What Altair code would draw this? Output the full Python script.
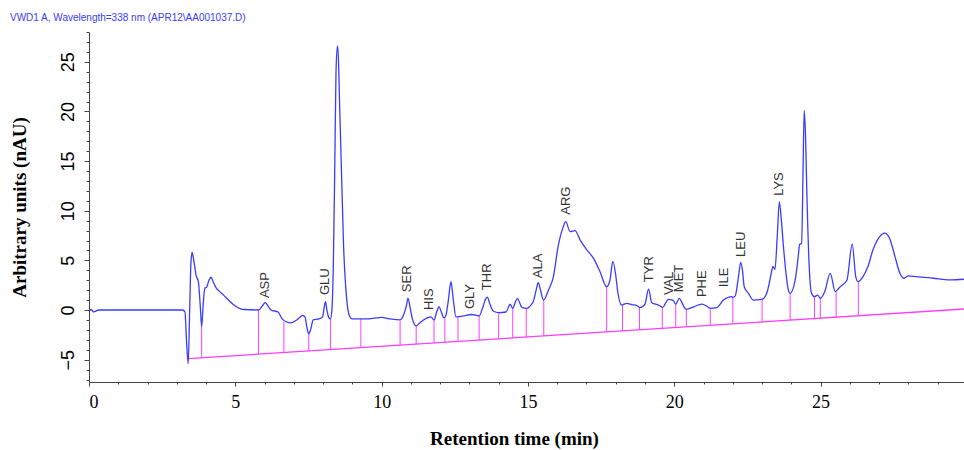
import altair as alt
import pandas as pd

# ---- chromatogram trace (retention time in min, signal) ----
times = [0.0, 0.1, 0.15, 0.2, 0.35, 3.2, 3.28, 3.33, 3.39, 3.44, 3.48, 3.52, 3.58, 3.66, 3.74, 3.80, 3.85,
         3.90, 3.96, 4.02, 4.10, 4.17, 4.25, 4.35, 4.45, 4.6, 4.8, 5.0, 5.16, 5.3, 5.79, 5.92,
         6.02, 6.12, 6.22, 6.46, 6.6, 6.75, 6.9, 7.1, 7.3, 7.38, 7.45, 7.51, 7.58, 7.66, 7.85,
         7.98, 8.05, 8.08, 8.13, 8.2, 8.25, 8.30, 8.35, 8.40, 8.44, 8.49, 8.52, 8.57, 8.62, 8.70,
         8.80, 8.9, 9.0, 9.29, 9.5, 9.8, 10.0, 10.3, 10.63, 10.75, 10.85, 10.9, 10.97, 11.05,
         11.18, 11.3, 11.43, 11.6, 11.68, 11.79, 11.88, 11.96, 12.04, 12.13, 12.2, 12.28, 12.37,
         12.45, 12.54, 12.78, 13.08, 13.33, 13.45, 13.55, 13.61, 13.7, 13.81, 14.0, 14.25, 14.35,
         14.39, 14.48, 14.57, 14.64, 14.72, 14.79, 14.96, 15.1, 15.18, 15.28, 15.35, 15.43, 15.53,
         15.7, 15.87, 16.03, 16.19, 16.29, 16.44, 16.61, 16.78, 17.01, 17.24, 17.46, 17.69, 17.8,
         17.9, 18.0, 18.06, 18.2, 18.38, 18.55, 18.72, 18.83, 19.0, 19.12, 19.23, 19.46, 19.6,
         19.8, 19.95, 20.05, 20.17, 20.3, 20.4, 20.65, 20.94, 21.1, 21.22, 21.45, 21.68, 21.96,
         22.0, 22.08, 22.2, 22.27, 22.33, 22.39, 22.53, 22.7, 22.99, 23.16, 23.30, 23.37, 23.44,
         23.52, 23.59, 23.66, 23.73, 23.9, 23.96, 24.13, 24.25, 24.28, 24.35, 24.40, 24.44, 24.49,
         24.52, 24.61, 24.69, 24.79, 24.9, 24.99, 25.14, 25.33, 25.5, 25.67, 25.9, 26.08, 26.2,
         26.28, 26.45, 26.62, 26.79, 27.02, 27.19, 27.36, 27.54, 27.71, 27.85, 28.0, 28.28, 28.85,
         29.42, 29.9]
signal = [0.0, 0.0, -0.2, -0.15, 0.0, 0.0, -0.2, -3.0, -5.4, 0.0, 4.5, 5.8, 5.0, 3.5, 2.8, 0.5, -1.7,
          0.5, 2.2, 2.3, 3.0, 3.3, 2.8, 2.2, 1.9, 1.5, 0.9, 0.4, 0.15, 0.05, 0.0, 0.4,
          0.75, 0.4, 0.0, -0.2, -0.9, -1.2, -1.3, -1.0, -0.55, -0.7, -1.8, -2.4, -1.9, -1.0, -0.9,
          -0.7, 0.5, 0.85, 0.0, -0.8, -0.9, 0.0, 4.7, 14.8, 23.9, 26.6, 25.5, 20.0, 14.8, 6.4,
          1.3, -0.6, -0.9, -0.9, -0.9, -0.8, -0.75, -0.9, -1.0, -0.5, 0.5, 1.2, 0.3, -0.9,
          -1.6, -1.3, -1.0, -0.75, -0.7, -1.0, -0.2, 0.33, -0.2, -0.8, -0.5, 1.0, 2.86,
          1.0, -0.7, -0.6, -0.45, -0.6, 0.2, 1.1, 1.3, 0.6, -0.1, -0.27, -0.2, 0.4,
          0.6, 0.17, 0.8, 1.18, 0.7, 0.27, 0.17, 0.5, 0.84, 2.0, 2.76, 2.0, 1.0,
          2.0, 3.37, 6.4, 8.25, 8.9, 7.9, 8.0, 7.07, 6.06, 5.2, 3.87, 2.35, 3.0,
          4.9, 3.5, 2.0, 0.5, 0.67, 0.55, 0.45, 0.25, 0.6, 2.1, 0.74, 0.5, 0.27,
          1.08, 1.0, 0.6, 1.18, 0.5, 0.07, 0.3, 0.6, 0.4, 0.17, 0.25, 1.0, 1.35,
          1.28, 1.4, 3.5, 4.8, 4.0, 2.35, 1.7, 1.0, 1.08, 1.7, 3.5, 4.4, 4.1,
          7.5, 10.9, 9.0, 6.4, 2.0, 1.68, 3.0, 5.8, 6.6, 6.7, 14.0, 20.1, 17.0,
          13.1, 4.4, 1.7, 1.35, 1.5, 1.18, 1.85, 3.7, 1.85, 2.35, 3.0, 6.67, 3.37,
          2.86, 3.37, 4.4, 6.06, 7.4, 7.75, 7.2, 5.4, 3.7, 3.2, 3.43, 3.37, 3.2,
          3.03, 3.1]

# ---- integration baseline ----
base_t = [3.39, 29.9]
base_v = [-4.9, 0.1]

# ---- peak boundary drop lines ----
drop_t = [3.85, 5.79, 6.66, 7.51, 8.25, 9.29, 10.63, 11.18, 11.79, 12.16, 12.61, 13.33, 14.0,
          14.48, 14.94, 15.54, 17.69, 18.23, 18.81, 19.59, 20.05, 20.41, 21.23, 22.0, 23.0,
          23.96, 24.79, 24.99, 25.53, 26.29]
drop_top = [-1.7, 0.0, -1.2, -2.4, -0.9, -0.9, -1.1, -1.6, -1.0, -0.85, -0.74, -0.6, -0.27,
            0.17, 0.17, 0.94, 2.36, 0.44, 0.27, 0.24, 0.6, 0.07, 0.17, 1.28, 1.08,
            1.68, 1.35, 1.28, 1.85, 2.86]
drop_bot = [-4.81, -4.45, -4.28, -4.12, -3.98, -3.79, -3.53, -3.43, -3.32, -3.25, -3.16, -3.03,
            -2.90, -2.81, -2.72, -2.61, -2.20, -2.10, -1.99, -1.85, -1.76, -1.69, -1.54, -1.39,
            -1.20, -1.02, -0.86, -0.83, -0.72, -0.58]

# ---- peak labels ----
peak_names = ["ASP", "GLU", "SER", "HIS", "GLY", "THR", "ALA", "ARG", "TYR", "VAL", "MET",
              "PHE", "ILE", "LEU", "LYS"]
peak_t = [6.02, 8.07, 10.88, 11.62, 13.02, 13.61, 15.33, 16.3, 19.12, 19.83, 20.16, 20.94,
          21.7, 22.27, 23.58]
peak_label_y = [1.2, 1.5, 1.8, 0.0, 0.1, 2.0, 3.2, 9.6, 2.8, 1.5, 1.8, 1.3, 2.3, 5.35, 11.5]

major_x = [0, 5, 10, 15, 20, 25]
minor_x = list(range(0, 30))
major_y = [-5, 0, 5, 10, 15, 20, 25]
minor_y = list(range(-7, 29))

trace_df = pd.DataFrame({"t": times, "v": signal})
base_df = pd.DataFrame({"t": base_t, "v": base_v})
drop_df = pd.DataFrame({"t": drop_t, "top": drop_top, "bot": drop_bot})
lab_df = pd.DataFrame({"name": peak_names, "t": peak_t, "y": peak_label_y})

xs = alt.Scale(domain=[0, 29.9], nice=False, zero=False)
ys = alt.Scale(domain=[-7.25, 28.0], nice=False, zero=False)

BLUE = "#3b3bff"
MAG = "#ff3cff"

x_main = alt.Axis(values=major_x, orient="bottom", title="Retention time (min)",
                  labelFont="Liberation Serif", labelFontSize=18, labelColor="black",
                  titleFont="Liberation Serif", titleFontSize=19, titleFontWeight="bold",
                  titleColor="black", titleX=425, titlePadding=18,
                  tickSize=4, tickColor="#444444", domainColor="#444444", labelPadding=7,
                  grid=False, tickWidth=1, domainWidth=1)
y_main = alt.Axis(values=major_y, orient="left", title="Arbitrary units (nAU)",
                  labelFont="Liberation Sans", labelFontSize=18, labelColor="black",
                  labelAngle=270, labelAlign="center", labelBaseline="middle", labelPadding=16,
                  titleFont="Liberation Serif", titleFontSize=19, titleFontWeight="bold",
                  titleColor="black", titlePadding=30,
                  tickSize=5, tickColor="#444444", domainColor="#444444",
                  grid=False, tickWidth=1, domainWidth=1)
x_minor = alt.Axis(values=minor_x, orient="bottom", labels=False, title=None, domain=False,
                   tickSize=2, tickColor="#444444", grid=False)
y_minor = alt.Axis(values=minor_y, orient="left", labels=False, title=None, domain=False,
                   tickSize=3, tickColor="#444444", grid=False)

trace = alt.Chart(trace_df).mark_line(color=BLUE, strokeWidth=1.3, interpolate="monotone").encode(
    x=alt.X("t:Q", scale=xs, axis=x_main),
    y=alt.Y("v:Q", scale=ys, axis=y_main),
)

baseline = alt.Chart(base_df).mark_line(color=MAG, strokeWidth=1.3).encode(
    x=alt.X("t:Q", scale=xs, axis=x_minor),
    y=alt.Y("v:Q", scale=ys, axis=y_minor),
)

drops = alt.Chart(drop_df).mark_rule(color=MAG, strokeWidth=1).encode(
    x=alt.X("t:Q", scale=xs, axis=None),
    y=alt.Y("top:Q", scale=ys, axis=None),
    y2="bot:Q",
)

labels = alt.Chart(lab_df).mark_text(angle=270, align="left", baseline="middle",
                                     font="Liberation Sans", fontSize=13,
                                     color="#333333").encode(
    x=alt.X("t:Q", scale=xs, axis=None),
    y=alt.Y("y:Q", scale=ys, axis=None),
    text="name:N",
)

chart = alt.layer(drops, baseline, trace, labels).resolve_axis(
    x="independent", y="independent"
).properties(
    width=875, height=350,
    title=alt.Title("VWD1 A, Wavelength=338 nm (APR12\\AA001037.D)",
                    anchor="start", fontSize=10, font="Liberation Sans",
                    fontWeight="normal", color="#3b3bff", offset=9),
    autosize=alt.AutoSizeParams(type="none"),
    padding={"left": 89, "top": 32, "right": 0, "bottom": 68},
).configure_view(stroke=None)

chart.save("out.html", embed_options={"renderer": "svg", "actions": False})
